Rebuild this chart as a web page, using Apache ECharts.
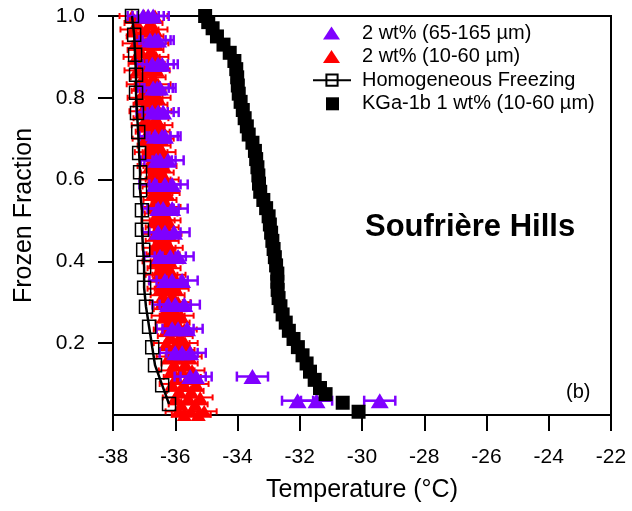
<!DOCTYPE html>
<html>
<head>
<meta charset="utf-8">
<script src="https://cdn.jsdelivr.net/npm/echarts@6/dist/echarts.min.js"></script>
<style>html,body{margin:0;padding:0;background:#fff}#c{width:632px;height:511px}</style>
</head>
<body>
<div id="c"></div>
<script>
// ---- Data ----
// KGa-1b 1 wt% (10-60 um): temperature (°C) and frozen fraction
const kgaTemp = [-35.04,-34.94,-34.80,-34.66,-34.45,-34.25,-34.10,-34.04,-34.01,-33.99,-33.96,-33.90,-33.83,-33.77,-33.70,-33.64,-33.52,-33.44,-33.40,-33.36,-33.33,-33.31,-33.27,-33.17,-33.08,-33.00,-32.96,-32.92,-32.88,-32.84,-32.80,-32.76,-32.72,-32.72,-32.71,-32.68,-32.62,-32.55,-32.45,-32.35,-32.20,-32.06,-31.91,-31.78,-31.67,-31.52,-31.35,-31.17,-30.62,-30.11];
const kgaFrac = [1.000,0.985,0.970,0.950,0.930,0.910,0.890,0.870,0.850,0.830,0.810,0.790,0.770,0.750,0.730,0.710,0.690,0.670,0.650,0.630,0.610,0.590,0.570,0.550,0.530,0.510,0.490,0.470,0.450,0.430,0.410,0.390,0.370,0.350,0.330,0.310,0.290,0.270,0.250,0.230,0.210,0.190,0.170,0.150,0.130,0.110,0.090,0.075,0.054,0.032];

// Homogeneous freezing
const homogTemp = [-37.39,-37.32,-37.29,-37.26,-37.26,-37.23,-37.19,-37.16,-37.13,-37.13,-37.07,-37.07,-37.03,-37.00,-37.00,-36.94,-36.84,-36.74,-36.65,-36.42,-36.20];
const homogFrac = [1.000,0.954,0.905,0.856,0.812,0.763,0.716,0.665,0.618,0.574,0.525,0.477,0.428,0.386,0.335,0.289,0.240,0.190,0.146,0.097,0.051];

// 2 wt% (10-60 um): five runs on two sets of frozen-fraction levels
const redFracA = [1.000,0.967,0.933,0.900,0.867,0.833,0.800,0.767,0.733,0.700,0.667,0.633,0.600,0.567,0.533,0.500,0.467,0.433,0.400,0.367,0.333,0.300,0.267,0.233,0.200,0.167,0.133,0.100,0.067,0.033];
const redFracB = [0.983,0.950,0.917,0.883,0.850,0.817,0.783,0.750,0.717,0.683,0.650,0.617,0.583,0.550,0.517,0.483,0.450,0.417,0.383,0.350,0.317,0.283,0.250,0.217,0.183,0.150,0.117,0.083,0.050,0.025];
const redRun1 = [-37.39,-37.36,-37.29,-37.26,-37.23,-37.16,-37.13,-37.07,-37.00,-36.97,-36.90,-36.81,-36.74,-36.71,-36.68,-36.68,-36.65,-36.65,-36.65,-36.55,-36.49,-36.42,-36.36,-36.29,-36.29,-36.20,-36.13,-36.10,-36.00,-35.91];
const redRun2 = [-37.00,-36.94,-36.97,-36.90,-36.87,-36.90,-36.81,-36.81,-36.74,-36.68,-36.65,-36.62,-36.55,-36.49,-36.49,-36.42,-36.45,-36.39,-36.39,-36.33,-36.26,-36.16,-36.10,-36.00,-35.94,-35.91,-35.78,-35.71,-35.58,-35.49];
const redRun3 = [-36.65,-36.65,-36.62,-36.62,-36.58,-36.55,-36.55,-36.52,-36.49,-36.45,-36.39,-36.36,-36.29,-36.26,-36.23,-36.23,-36.20,-36.16,-36.16,-36.07,-35.97,-35.91,-35.81,-35.71,-35.68,-35.55,-35.46,-35.33,-35.20,-35.07];
const redRun4 = [-37.23,-37.16,-37.13,-37.10,-37.03,-37.00,-36.94,-36.94,-36.87,-36.81,-36.74,-36.71,-36.65,-36.62,-36.58,-36.55,-36.55,-36.52,-36.49,-36.45,-36.39,-36.29,-36.23,-36.16,-36.10,-36.04,-35.97,-35.87,-35.81,-35.71];
const redRun5 = [-36.81,-36.78,-36.78,-36.74,-36.71,-36.71,-36.65,-36.62,-36.58,-36.55,-36.52,-36.45,-36.42,-36.36,-36.33,-36.29,-36.29,-36.26,-36.23,-36.16,-36.10,-36.04,-35.94,-35.84,-35.78,-35.68,-35.58,-35.49,-35.36,-35.26];
const redErr = 0.4;

// 2 wt% (65-165 um): three runs
const purpleFrac = [1.000,0.941,0.882,0.824,0.765,0.706,0.647,0.588,0.529,0.471,0.412,0.353,0.294,0.235,0.176,0.118,0.059];
const purpleRun1 = [-37.03,-36.81,-36.74,-36.71,-36.74,-36.65,-36.61,-36.65,-36.55,-36.55,-36.49,-36.33,-36.23,-36.10,-36.00,-35.52,-32.07];
const purpleRun2 = [-36.87,-36.65,-36.55,-36.58,-36.55,-36.42,-36.49,-36.33,-36.39,-36.33,-36.16,-36.10,-36.00,-35.91,-35.78,-35.33,-31.46];
const purpleRun3 = [-36.71,-36.55,-36.42,-36.49,-36.39,-36.33,-36.23,-36.10,-36.10,-36.04,-35.91,-35.78,-35.71,-35.62,-35.52,-33.52,-29.43];
const purpleErr = 0.5;

const yTicks = [0.2, 0.4, 0.6, 0.8, 1.0];

// ---- Names / styles ----
const N_PURPLE = '2 wt% (65-165 µm)';
const N_RED = '2 wt% (10-60 µm)';
const N_HOMOG = 'Homogeneous Freezing';
const N_KGA = 'KGa-1b 1 wt% (10-60 µm)';
const PURPLE = '#7f00ff';
const RED = '#ff0000';
const FONT = 'Liberation Sans, Arial, sans-serif';

function zip(t, f) { return t.map((v, i) => [v, f[i]]); }
function withErr(runs, e) {
  const out = [];
  runs.forEach(([r, f]) => r.forEach((v, i) => out.push([v, f[i], e])));
  return out;
}
const redPts = withErr([[redRun1, redFracA], [redRun4, redFracB], [redRun2, redFracA], [redRun5, redFracB], [redRun3, redFracA]], redErr);
const purplePts = withErr([[purpleRun1, purpleFrac], [purpleRun2, purpleFrac], [purpleRun3, purpleFrac]], purpleErr);

function errRender(capH, lw, color) {
  return function (params, api) {
    const t = api.value(0), f = api.value(1), e = api.value(2);
    const a = api.coord([t - e, f]), b = api.coord([t + e, f]);
    const st = { stroke: color, lineWidth: lw };
    return { type: 'group', children: [
      { type: 'line', shape: { x1: a[0], y1: a[1], x2: b[0], y2: b[1] }, style: st },
      { type: 'line', shape: { x1: a[0], y1: a[1] - capH / 2, x2: a[0], y2: a[1] + capH / 2 }, style: st },
      { type: 'line', shape: { x1: b[0], y1: b[1] - capH / 2, x2: b[0], y2: b[1] + capH / 2 }, style: st }
    ]};
  };
}

const legendText = (padLeft) => ({ fontSize: 20, color: '#000', fontFamily: FONT, lineHeight: 20, padding: [0, 0, 0, padLeft] });

const chart = echarts.init(document.getElementById('c'), null, { renderer: 'canvas' });
chart.setOption({
  animation: false,
  backgroundColor: '#fff',
  textStyle: { fontFamily: FONT },
  grid: { left: 113, right: 21, top: 16, bottom: 96, show: true, borderColor: '#000', borderWidth: 2, backgroundColor: 'transparent' },
  legend: [
    { orient: 'vertical', left: 323, top: 23, padding: 0, itemWidth: 17, itemHeight: 13, itemGap: 3.6,
      textStyle: legendText(17),
      data: [{ name: N_PURPLE, icon: 'triangle' }, { name: N_RED, icon: 'triangle' }] },
    { orient: 'vertical', left: 312, top: 70.2, padding: 0, itemWidth: 38, itemHeight: 14, itemGap: 3.6,
      textStyle: legendText(6),
      data: [{ name: N_HOMOG }] },
    { orient: 'vertical', left: 326, top: 93.8, padding: 0, itemWidth: 13, itemHeight: 13, itemGap: 3.6,
      textStyle: legendText(18),
      data: [{ name: N_KGA, icon: 'rect' }] }
  ],
  xAxis: {
    type: 'value', min: -38, max: -22, interval: 2,
    name: 'Temperature (°C)', nameLocation: 'middle', nameGap: 63,
    nameTextStyle: { fontSize: 25, color: '#000', fontFamily: FONT },
    axisLine: { onZero: false, lineStyle: { color: '#000', width: 2 } },
    axisTick: { inside: false, length: 16, lineStyle: { color: '#000', width: 2 } },
    axisLabel: { margin: 32, fontSize: 21, color: '#000', fontFamily: FONT },
    splitLine: { show: false }
  },
  yAxis: {
    type: 'value', min: 0.024, max: 1.0,
    name: 'Frozen Fraction', nameLocation: 'middle', nameGap: 76,
    nameTextStyle: { fontSize: 25, color: '#000', fontFamily: FONT },
    axisLine: { onZero: false, lineStyle: { color: '#000', width: 2 } },
    axisTick: { inside: false, length: 15, customValues: yTicks, lineStyle: { color: '#000', width: 2 } },
    axisLabel: { margin: 28, fontSize: 21, color: '#000', fontFamily: FONT, customValues: yTicks,
                 formatter: v => v.toFixed(1) },
    splitLine: { show: false }
  },
  graphic: [
    { type: 'text', left: 365, top: 212, style: { text: 'Soufrière Hills', font: 'bold 31px ' + FONT, fill: '#000' } },
    { type: 'text', left: 566, top: 382, style: { text: '(b)', font: '20px ' + FONT, fill: '#000' } }
  ],
  series: [
    { type: 'custom', name: N_RED + ' err', data: redPts, renderItem: errRender(6, 2, RED), z: 2, silent: true },
    { type: 'scatter', name: N_RED, data: redPts, symbol: 'triangle', symbolSize: [15, 13],
      itemStyle: { color: RED, opacity: 1 }, z: 3 },
    { type: 'custom', name: N_PURPLE + ' err', data: purplePts, renderItem: errRender(10, 2.5, PURPLE), z: 4, silent: true },
    { type: 'scatter', name: N_PURPLE, data: purplePts, symbol: 'triangle', symbolSize: [18, 15],
      itemStyle: { color: PURPLE, opacity: 1 }, z: 5 },
    { type: 'scatter', name: N_KGA, data: zip(kgaTemp, kgaFrac), symbol: 'rect', symbolSize: 14,
      itemStyle: { color: '#000', opacity: 1 }, z: 6 },
    { type: 'line', name: N_HOMOG, data: zip(homogTemp, homogFrac), symbol: 'rect', symbolSize: 13,
      showAllSymbol: true,
      lineStyle: { color: '#000', width: 2.5 },
      itemStyle: { color: 'rgba(255,255,255,0)', borderColor: '#000', borderWidth: 1.5 }, z: 7 }
  ]
});
</script>
</body>
</html>
